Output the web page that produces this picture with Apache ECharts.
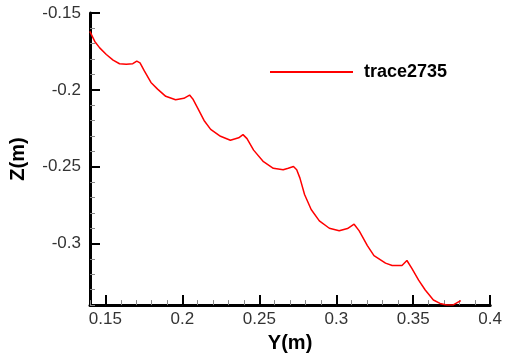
<!DOCTYPE html>
<html><head><meta charset="utf-8">
<script src="https://cdn.jsdelivr.net/npm/echarts@6/dist/echarts.min.js"></script>
<style>html,body{margin:0;padding:0;background:#fff}#c{width:505px;height:358px}</style>
</head><body><div id="c"></div>
<script>
const seriesName = 'trace2735';
const yCoord = [0.1399,0.1431,0.1463,0.1506,0.155,0.1592,0.1635,0.1678,0.1704,0.1725,0.1753,0.1796,0.1839,0.1892,0.1956,0.201,0.2047,0.2068,0.2098,0.2141,0.2184,0.2248,0.2312,0.2366,0.2394,0.242,0.2463,0.2527,0.2591,0.2655,0.2688,0.2722,0.2743,0.2764,0.2794,0.2837,0.289,0.2955,0.3019,0.3073,0.3116,0.3149,0.3202,0.3245,0.332,0.3363,0.3427,0.3459,0.3492,0.3535,0.3578,0.3631,0.3674,0.3717,0.376,0.3809];
const zCoord = [-0.162,-0.1685,-0.1727,-0.177,-0.1807,-0.183,-0.1834,-0.183,-0.1813,-0.1824,-0.1877,-0.1952,-0.1995,-0.2042,-0.2064,-0.2055,-0.2034,-0.2059,-0.2115,-0.2199,-0.2257,-0.2302,-0.2328,-0.2312,-0.2291,-0.2317,-0.2392,-0.2467,-0.251,-0.252,-0.251,-0.2499,-0.252,-0.2574,-0.2681,-0.2778,-0.2852,-0.29,-0.2917,-0.2902,-0.2874,-0.2917,-0.3013,-0.3078,-0.3127,-0.3142,-0.3142,-0.311,-0.3163,-0.3238,-0.3302,-0.3367,-0.3389,-0.3399,-0.3399,-0.3371];
const xRange = [0.14, 0.4];
const zRange = [-0.34, -0.15];
const minorStep = 0.01;

const data = yCoord.map((v, i) => [v, zCoord[i]]);
const font = 'Liberation Sans, Arial, Helvetica, sans-serif';
const chart = echarts.init(document.getElementById('c'), null, {renderer: 'canvas'});
const major = (isX) => ({
  type: 'value', min: isX ? xRange[0] : zRange[0], max: isX ? xRange[1] : zRange[1],
  splitNumber: isX ? 5 : 4, position: isX ? 'bottom' : 'left', offset: 0,
  axisLine: {show: true, onZero: false, lineStyle: {color: '#000', width: 3}},
  axisTick: {show: true, inside: true, length: 10, lineStyle: {color: '#000', width: 2}},
  axisLabel: {show: true, showMinLabel: false, color: '#333', fontFamily: font, fontSize: 17, margin: isX ? 6 : 9},
  splitLine: {show: false}
});
const minor = (isX) => ({
  type: 'value', min: isX ? xRange[0] : zRange[0], max: isX ? xRange[1] : zRange[1],
  interval: minorStep, position: isX ? 'bottom' : 'left', offset: 0,
  axisLine: {show: false, onZero: false},
  axisTick: {show: true, inside: true, length: 5, lineStyle: {color: '#888', width: 1}},
  axisLabel: {show: false}, splitLine: {show: false}
});
const xMain = major(true);
xMain.name = 'Y(m)'; xMain.nameLocation = 'middle'; xMain.nameGap = 18;
xMain.nameTextStyle = {fontFamily: font, fontWeight: 'bold', fontSize: 20, color: '#000'};
const yMain = major(false);
yMain.name = 'Z(m)'; yMain.nameLocation = 'middle'; yMain.nameGap = 62;
yMain.nameTextStyle = {fontFamily: font, fontWeight: 'bold', fontSize: 20, color: '#000'};
chart.setOption({
  animation: false,
  grid: {left: 90, right: 10, top: 13, bottom: 50, containLabel: false},
  xAxis: [minor(true), xMain],
  yAxis: [minor(false), yMain],
  legend: {
    show: true, left: 265, top: 58, icon: 'rect', itemWidth: 83, itemHeight: 2,
    data: [seriesName],
    textStyle: {fontFamily: font, fontWeight: 'bold', fontSize: 18, color: '#000', padding: [0, 0, 0, 6]}
  },
  series: [{
    name: seriesName, type: 'line', xAxisIndex: 1, yAxisIndex: 1, data: data,
    showSymbol: false, symbol: 'none', smooth: false, clip: true,
    lineStyle: {color: '#ff0000', width: 1.5}, itemStyle: {color: '#ff0000'}
  }]
});
</script></body></html>
